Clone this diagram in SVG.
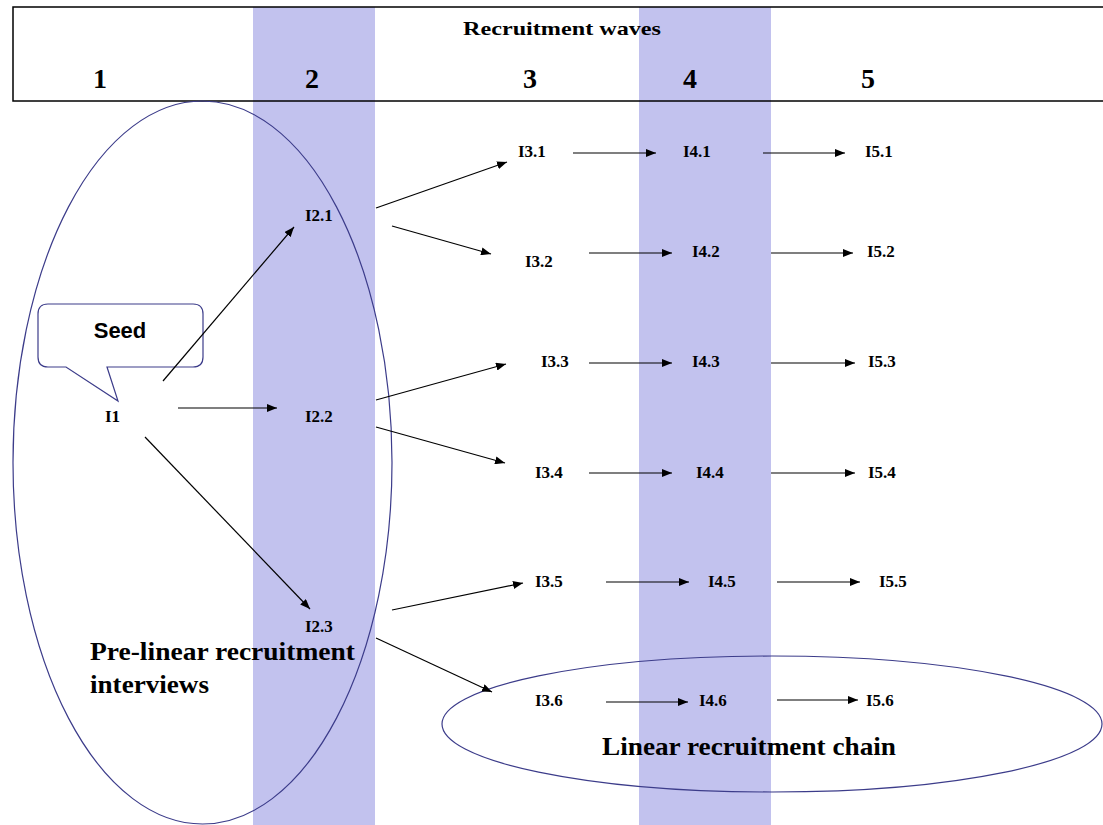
<svg xmlns="http://www.w3.org/2000/svg" width="1103" height="825" viewBox="0 0 1103 825">
<style>
.col{fill:#c2c2ee}
.hdr{fill:none;stroke:#000;stroke-width:1.5}
.ell{fill:none;stroke:#3c3c8a;stroke-width:1.2}
.lbl{font-family:"Liberation Serif","Times New Roman",serif;font-weight:bold;font-size:17px;fill:#000}
.big{font-family:"Liberation Serif","Times New Roman",serif;font-weight:bold;font-size:26px;fill:#000}
.num{font-family:"Liberation Serif","Times New Roman",serif;font-weight:bold;font-size:28px;fill:#000;text-anchor:middle}
.arr{stroke:#000;stroke-width:1.2;fill:none;marker-end:url(#ah)}
</style>
<defs>
<marker id="ah" markerUnits="userSpaceOnUse" markerWidth="11" markerHeight="8" refX="10" refY="4" orient="auto">
<path d="M0,0 L10,4 L0,8 z" fill="#000"/>
</marker>
</defs>
<rect width="1103" height="825" fill="#fff"/>
<g id="wave-columns">
<rect class="col" x="253" y="7" width="122" height="818"/>
<rect class="col" x="639" y="7" width="132" height="818"/>
</g>
<g id="header">
<rect class="hdr" x="13" y="7" width="1100" height="94"/>
<text x="562" y="35" text-anchor="middle" textLength="198" lengthAdjust="spacingAndGlyphs" style="font-family:'Liberation Serif','Times New Roman',serif;font-weight:bold;font-size:19px">Recruitment  waves</text>
<text class="num" x="100" y="88">1</text>
<text class="num" x="312" y="88">2</text>
<text class="num" x="530" y="88">3</text>
<text class="num" x="690" y="88">4</text>
<text class="num" x="868" y="88">5</text>
</g>
<g id="pre-linear-group">
<ellipse class="ell" cx="202.5" cy="462.5" rx="189.5" ry="361.5"/>
<text class="big" x="90" y="660" textLength="265" lengthAdjust="spacingAndGlyphs">Pre-linear recruitment</text>
<text class="big" x="90" y="693" textLength="119" lengthAdjust="spacingAndGlyphs">interviews</text>
</g>
<g id="linear-chain-group">
<ellipse class="ell" cx="772" cy="724" rx="330" ry="68"/>
<text class="big" x="602" y="755" textLength="294" lengthAdjust="spacingAndGlyphs">Linear recruitment chain</text>
</g>
<g id="seed-callout">
<path d="M48,304 H193 Q203,304 203,314 V357 Q203,367 193,367 H107 L118,401 L66,367 H48 Q38,367 38,357 V314 Q38,304 48,304 Z" fill="#fff" stroke="#3c3c8a" stroke-width="1.2"/>
<text x="120" y="338" text-anchor="middle" style="font-family:'Liberation Sans',Arial,sans-serif;font-weight:bold;font-size:22px">Seed</text>
</g>
<g id="connectors">
<line class="arr" x1="163" y1="381" x2="294" y2="227"/>
<line class="arr" x1="178" y1="408" x2="277" y2="408"/>
<line class="arr" x1="145" y1="437" x2="310" y2="609"/>
<line class="arr" x1="376" y1="208" x2="507" y2="162"/>
<line class="arr" x1="392" y1="226" x2="491" y2="254"/>
<line class="arr" x1="376" y1="400" x2="506" y2="364"/>
<line class="arr" x1="376" y1="427" x2="505" y2="463"/>
<line class="arr" x1="392" y1="610" x2="523" y2="583"/>
<line class="arr" x1="376" y1="638" x2="492" y2="692"/>
<line class="arr" x1="573" y1="153" x2="656" y2="153"/>
<line class="arr" x1="763" y1="153" x2="845" y2="153"/>
<line class="arr" x1="589" y1="253" x2="672" y2="253"/>
<line class="arr" x1="771" y1="253" x2="853" y2="253"/>
<line class="arr" x1="589" y1="363" x2="672" y2="363"/>
<line class="arr" x1="771" y1="363" x2="855" y2="363"/>
<line class="arr" x1="589" y1="473" x2="672" y2="473"/>
<line class="arr" x1="771" y1="473" x2="855" y2="473"/>
<line class="arr" x1="606" y1="582" x2="689" y2="582"/>
<line class="arr" x1="777" y1="582" x2="860" y2="582"/>
<line class="arr" x1="606" y1="702" x2="688" y2="702"/>
<line class="arr" x1="777" y1="700" x2="858" y2="700"/>
</g>
<g id="n-I1"><text class="lbl" x="105" y="422">I1</text></g>
<g id="n-I2-1"><text class="lbl" x="305" y="221">I2.1</text></g>
<g id="n-I2-2"><text class="lbl" x="305" y="422">I2.2</text></g>
<g id="n-I2-3"><text class="lbl" x="305" y="632">I2.3</text></g>
<g id="n-I3-1"><text class="lbl" x="518" y="157">I3.1</text></g>
<g id="n-I3-2"><text class="lbl" x="525" y="267">I3.2</text></g>
<g id="n-I3-3"><text class="lbl" x="541" y="367">I3.3</text></g>
<g id="n-I3-4"><text class="lbl" x="535" y="478">I3.4</text></g>
<g id="n-I3-5"><text class="lbl" x="535" y="587">I3.5</text></g>
<g id="n-I3-6"><text class="lbl" x="535" y="706">I3.6</text></g>
<g id="n-I4-1"><text class="lbl" x="683" y="157">I4.1</text></g>
<g id="n-I4-2"><text class="lbl" x="692" y="257">I4.2</text></g>
<g id="n-I4-3"><text class="lbl" x="692" y="367">I4.3</text></g>
<g id="n-I4-4"><text class="lbl" x="696" y="478">I4.4</text></g>
<g id="n-I4-5"><text class="lbl" x="708" y="587">I4.5</text></g>
<g id="n-I4-6"><text class="lbl" x="699" y="706">I4.6</text></g>
<g id="n-I5-1"><text class="lbl" x="865" y="157">I5.1</text></g>
<g id="n-I5-2"><text class="lbl" x="867" y="257">I5.2</text></g>
<g id="n-I5-3"><text class="lbl" x="868" y="367">I5.3</text></g>
<g id="n-I5-4"><text class="lbl" x="868" y="478">I5.4</text></g>
<g id="n-I5-5"><text class="lbl" x="879" y="587">I5.5</text></g>
<g id="n-I5-6"><text class="lbl" x="866" y="706">I5.6</text></g>
</svg>
